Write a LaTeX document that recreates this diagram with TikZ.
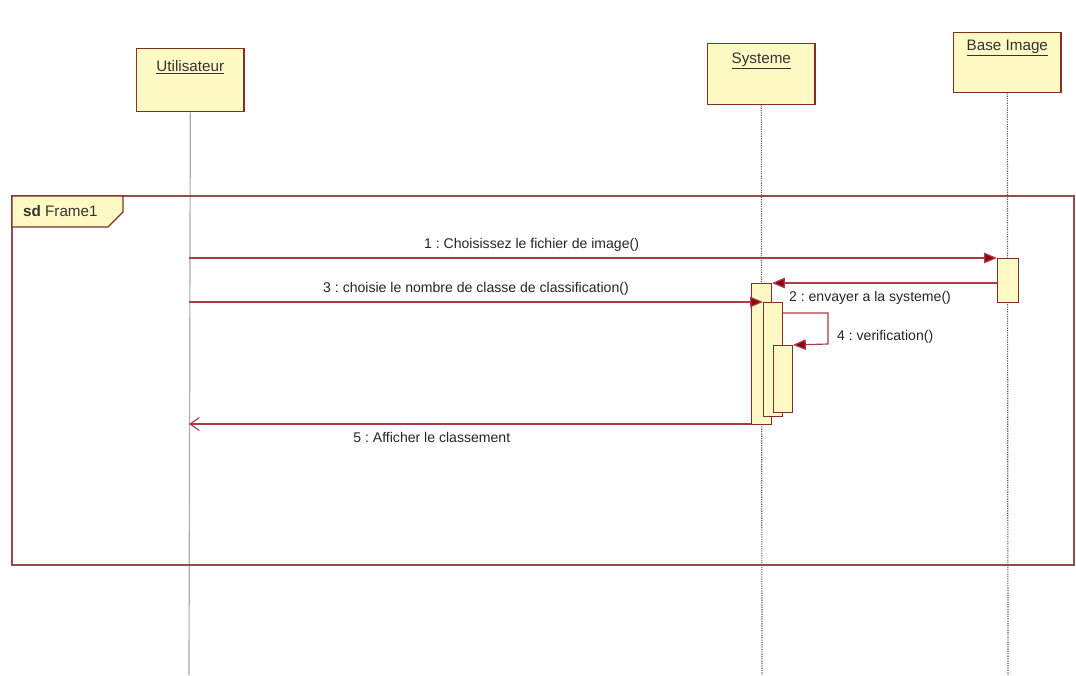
\documentclass[tikz,border=0pt]{standalone}
\usepackage{fontspec}
\setmainfont{Liberation Sans}
\usetikzlibrary{arrows.meta}
\definecolor{boxline}{RGB}{130, 45, 40}
\definecolor{boxfill}{RGB}{255, 250, 196}
\definecolor{msgline}{RGB}{170, 60, 70}
\definecolor{msgtip}{RGB}{140, 0, 20}
\definecolor{lifegray}{RGB}{170, 170, 170}
\frenchspacing

\begin{document}
\begin{tikzpicture}[x=0.03cm, y=-0.03cm,
  lifebox/.style={draw=boxline, fill=boxfill, line width=1.1pt, minimum width=3.22cm, anchor=north west, inner sep=0pt},
  boxlabel/.style={font=\fontsize{13}{15}\selectfont, text=black!80},
  act/.style={draw=boxline, fill=boxfill, line width=0.8pt, anchor=north west, inner sep=0pt},
  msg/.style={draw=msgline, line width=1pt},
  call/.style={msg, -{Triangle[length=11pt, width=9pt, fill=msgtip]}},
  reply/.style={msg, -{Straight Barb[length=8pt, width=11pt]}},
  msglabel/.style={font=\fontsize{12}{14}\selectfont, text=black!85}]
  \useasboundingbox (0,0) rectangle (1076,675);

  % Lifeline heads
  \node[lifebox, minimum height=1.89cm] (utl) at (136,48) {};
  \node[lifebox, minimum height=1.83cm] (sys) at (707,43) {};
  \node[lifebox, minimum height=1.80cm] (base) at (953,32) {};
  \node[boxlabel, yshift=-0.57cm] (utllab) at (utl.north) {\underline{Utilisateur}};
  \node[boxlabel, yshift=-0.54cm] (syslab) at (sys.north) {\underline{Systeme}};
  \node[boxlabel, yshift=-0.48cm] (baselab) at (base.north) {\underline{Base Image}};

  % Lifelines
  \coordinate (utlend) at (189,675);
  \coordinate (sysend) at (762,675);
  \coordinate (baseend) at (1008,675);
  \draw[lifegray, line width=1pt] (utl.south) -- (utlend);
  \draw[black!65, line width=1pt, dash pattern=on 1pt off 1pt] (sys.south) -- (sysend);
  \draw[black!65, line width=1pt, dash pattern=on 1pt off 1pt] (base.south) -- (baseend);

  % Frame
  \draw[boxline!85, line width=1.1pt] (12,196) rectangle (1074,565);
  \draw[boxline, fill=boxfill, line width=1pt] (12,196) -- (123,196) -- (123,212) -- (108,227) -- (12,227) -- cycle;
  \node[boxlabel, anchor=west] (sdlab) at (19,211) {\textbf{sd} Frame1};

  % Activations
  \node[act, minimum width=0.63cm, minimum height=1.32cm] (baseact) at (997,258) {};
  \node[act, minimum width=0.60cm, minimum height=4.23cm] (sysact1) at (751,283) {};
  \node[act, minimum width=0.57cm, minimum height=3.42cm] (sysact2) at (763,302) {};
  \node[act, minimum width=0.57cm, minimum height=2.01cm] (sysact3) at (773,345) {};

  % Messages
  \coordinate (u1) at (189,258);
  \coordinate (u3) at (189,302);
  \coordinate (u5) at (189,424);
  \coordinate (s5) at (751,424);
  \draw[call] (u1) -- (baseact.north west)
    node[msglabel, pos=0.424, above=2pt] (m1) {1 : Choisissez le fichier de image()};
  \draw[call] (baseact.west |- sysact1.north) -- (sysact1.north east);
  \node[msglabel, anchor=west] (m2) at (785,298) {2 : envayer a la systeme()};
  \draw[call] (u3) -- (sysact2.north west)
    node[msglabel, midway, above=2pt] (m3) {3 : choisie le nombre de classe de classification()};
  \coordinate (self1) at (828,313);
  \coordinate (self2) at (828,344);
  \draw[call] (sysact2.east |- self1) -- (self1) -- (self2) -- (sysact3.north east);
  \node[msglabel, anchor=west] (m4) at (833,337) {4 : verification()};
  \draw[reply] (s5) -- (u5)
    node[msglabel, pos=0.568, below=3pt] (m5) {5 : Afficher le classement};
\end{tikzpicture}
\end{document}
